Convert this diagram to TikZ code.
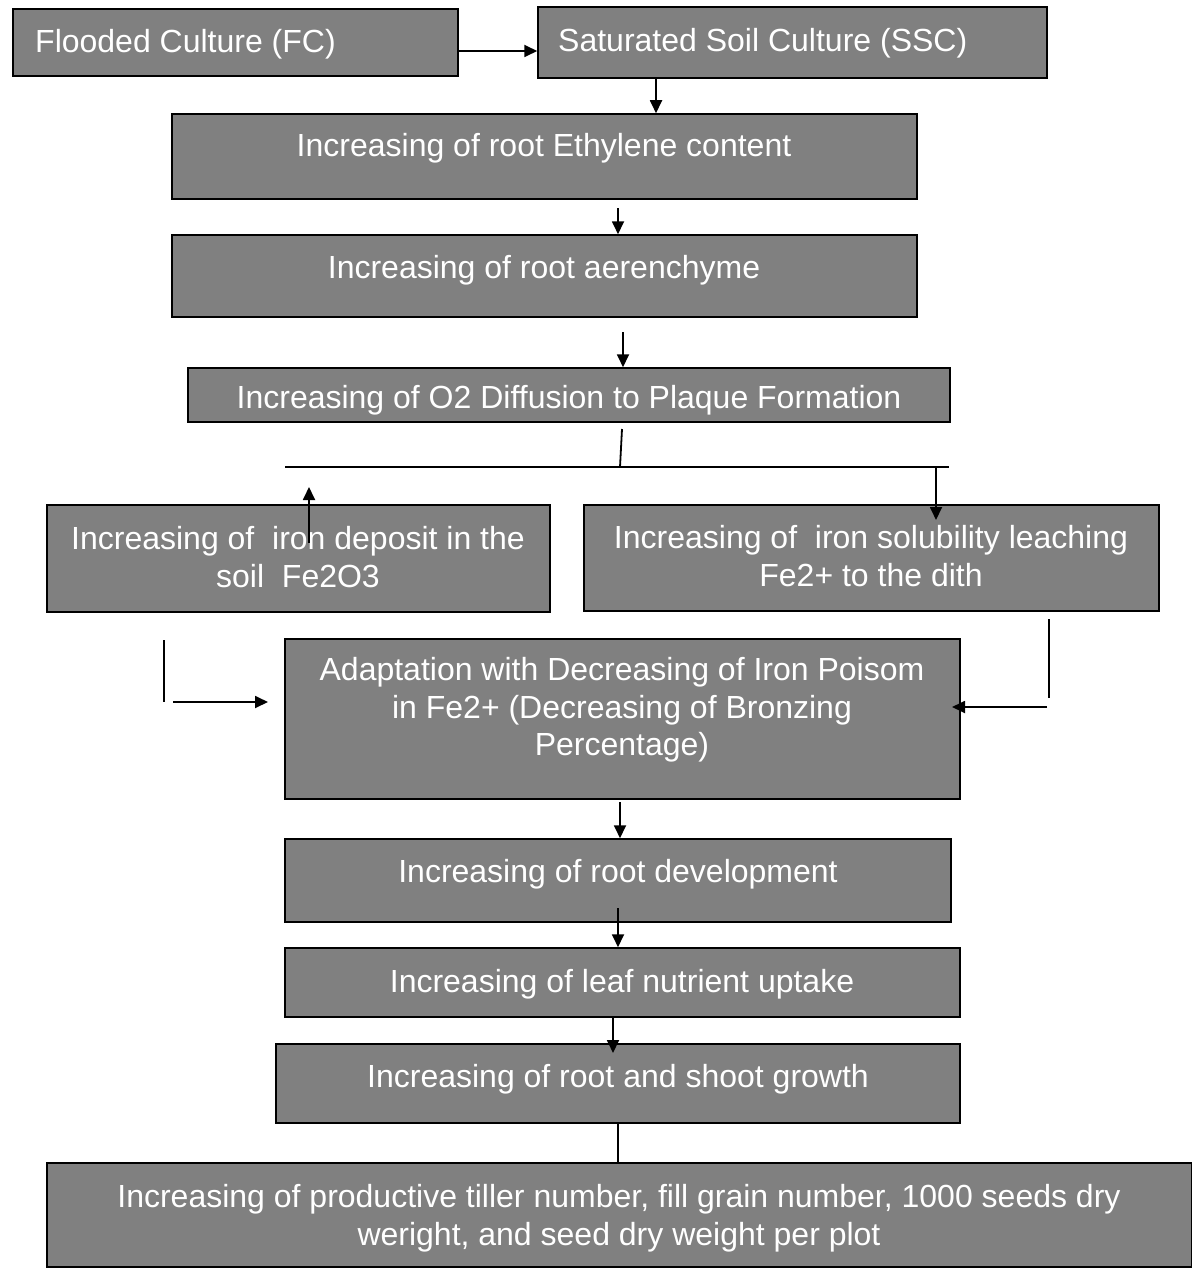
\documentclass[tikz,border=0pt]{standalone}
\usepackage{fontspec}
\setmainfont{Liberation Sans}
\usetikzlibrary{arrows.meta}
\tikzset{
  box/.style={draw=black, line width=1.5pt, fill=boxgray, inner sep=0pt, anchor=center},
  txt/.style={text=white, font=\fontsize{32}{37.5}\selectfont, inner sep=0pt, align=center, anchor=center},
  ltxt/.style={text=white, font=\fontsize{32}{37.5}\selectfont, inner sep=0pt, anchor=west},
  arr/.style={line width=1.8pt, -{Triangle[length=13pt,width=12pt]}},
  ln/.style={line width=1.8pt}
}
\definecolor{boxgray}{RGB}{128,128,128}
\begin{document}
\begin{tikzpicture}[x=1pt,y=-1pt]
\useasboundingbox (0,0) rectangle (1191,1268);
% boxes
\node[box, minimum width=445pt, minimum height=67pt] (fc) at (235.5,42.5) {};
\node[box, minimum width=509pt, minimum height=71pt] (ssc) at (792.5,42.5) {};
\node[box, minimum width=745pt, minimum height=85pt] (eth) at (544.5,156.5) {};
\node[box, minimum width=745pt, minimum height=82pt] (aer) at (544.5,276) {};
\node[box, minimum width=762pt, minimum height=54pt] (o2) at (569,395) {};
\node[box, minimum width=503pt, minimum height=107pt] (dep) at (298.5,558.5) {};
\node[box, minimum width=575pt, minimum height=106pt] (sol) at (871.5,558) {};
\node[box, minimum width=675pt, minimum height=160pt] (adap) at (622.5,719) {};
\node[box, minimum width=666pt, minimum height=83pt] (rd) at (618,880.5) {};
\node[box, minimum width=675pt, minimum height=69pt] (leaf) at (622.5,982.5) {};
\node[box, minimum width=684pt, minimum height=79pt] (rs) at (618,1083.5) {};
\node[box, minimum width=1145pt, minimum height=104pt] (fin) at (619.5,1215) {};
% texts
\node[ltxt] (tfc) at (35,44) {Flooded Culture (FC)};
\node[ltxt] (tssc) at (558,43) {Saturated Soil Culture (SSC)};
\node[txt] (teth) at (544,148) {Increasing of root Ethylene content};
\node[txt] (taer) at (544,270) {Increasing of root aerenchyme};
\node[txt] (to2) at (569,400) {Increasing of O2 Diffusion to Plaque Formation};
\node[txt] (tdep) at (298,557) {Increasing of\ \ iron deposit in the\\soil\ \ Fe2O3};
\node[txt] (tsol) at (871,556) {Increasing of\ \ iron solubility leaching\\Fe2+ to the dith};
\node[txt] (tadap) at (622,710) {Adaptation with Decreasing of Iron Poisom\\in Fe2+ (Decreasing of Bronzing\\Percentage)};
\node[txt] (trd) at (618,874) {Increasing of root development};
\node[txt] (tleaf) at (622,984) {Increasing of leaf nutrient uptake};
\node[txt] (trs) at (618,1079) {Increasing of root and shoot growth};
\node[txt] (tfin) at (619,1218) {Increasing of productive tiller number, fill grain number, 1000 seeds dry\\weright, and seed dry weight per plot};
% free-end coordinates
\coordinate (ethOut) at (618,208);
\coordinate (aerOut) at (623,332);
\coordinate (o2Out) at (622,429);
\coordinate (jM) at (620,467);
\coordinate (jL) at (285,467);
\coordinate (jR) at (949,467);
\coordinate (jRd) at (936,467);
\coordinate (solTip) at (936,520);
\coordinate (depIn) at (309,543);
\coordinate (depTip) at (309,487);
\coordinate (lv1) at (164,640);
\coordinate (lv2) at (164,702);
\coordinate (la1) at (173,702);
\coordinate (la2) at (268,702);
\coordinate (rv1) at (1049,619);
\coordinate (rv2) at (1049,698);
\coordinate (ra1) at (1047,707);
\coordinate (ra2) at (952,707);
\coordinate (adOut) at (620,802);
\coordinate (rdIn) at (618,908);
\coordinate (rsTip) at (613,1053);
% connectors
\draw[arr] (fc.east |- 0,51) -- (ssc.west |- 0,51);
\draw[arr] (ssc.south -| 656,0) -- (eth.north -| 656,0);
\draw[arr] (ethOut) -- (aer.north -| ethOut);
\draw[arr] (aerOut) -- (o2.north -| aerOut);
\draw[ln] (o2Out) -- (jM);
\draw[ln] (jL) -- (jR);
\draw[arr] (jRd) -- (solTip);
\draw[arr] (depIn) -- (depTip);
\draw[ln] (lv1) -- (lv2);
\draw[arr] (la1) -- (la2);
\draw[ln] (rv1) -- (rv2);
\draw[arr] (ra1) -- (ra2);
\draw[arr] (adOut) -- (rd.north -| adOut);
\draw[arr] (rdIn) -- (leaf.north -| rdIn);
\draw[arr] (leaf.south -| rsTip) -- (rsTip);
\draw[ln] (rs.south -| 618,0) -- (fin.north -| 618,0);
\end{tikzpicture}
\end{document}
